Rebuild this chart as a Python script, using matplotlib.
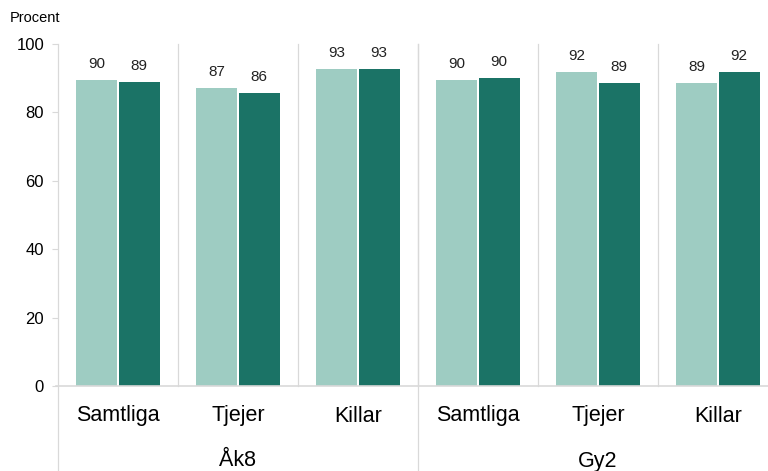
import numpy as np
import matplotlib
matplotlib.use("Agg")
import matplotlib.pyplot as plt
from matplotlib.transforms import blended_transform_factory

# ------------------------------- data -------------------------------
categories = ["Samtliga", "Tjejer", "Killar", "Samtliga", "Tjejer", "Killar"]
groups = ["Åk8", "Gy2"]
series_light = [89.6, 87.1, 92.6, 89.6, 91.8, 88.7]
series_dark = [88.9, 85.8, 92.8, 90.2, 88.7, 91.8]
yticks = [0, 20, 40, 60, 80, 100]

LIGHT = "#9ECCC2"
DARK = "#1B7366"
GRID = "#D9D9D9"

plt.rcParams["font.family"] = ["Liberation Sans", "DejaVu Sans"]

fig = plt.figure(figsize=(7.68, 4.71), dpi=100)
ax = fig.add_axes([58 / 768, 1 - 386 / 471, 710 / 768, (386 - 44) / 471])

x = np.arange(len(categories))
w = 0.34
off = 0.177
b1 = ax.bar(x - off, series_light, w, color=LIGHT, edgecolor="none")
b2 = ax.bar(x + off, series_dark, w, color=DARK, edgecolor="none")

for bars in (b1, b2):
    for r in bars:
        v = r.get_height()
        ax.text(r.get_x() + r.get_width() / 2, v + 2.6, f"{v:.0f}",
                ha="center", va="bottom", fontsize=11, color="#222222")

ax.set_xlim(-0.5, 5.417)
ax.set_ylim(0, 100)
ax.set_yticks(yticks)
ax.tick_params(axis="y", labelsize=12, length=4, color=GRID, pad=6)
ax.set_xticks([])
for s in ["top", "right", "bottom", "left"]:
    ax.spines[s].set_visible(False)

trans = blended_transform_factory(ax.transData, ax.transAxes)
# separators inside plot area
for i in range(6):
    xb = i - 0.5 + 1
    ax.plot([xb, xb], [0, 1], color=GRID, lw=0.9, transform=trans, clip_on=False, zorder=0)
# left edge and group separators extend below
for xb in (-0.5, 2.5, 5.5):
    ax.plot([xb, xb], [1, -85 / 342], color=GRID, lw=0.9, transform=trans, clip_on=False, zorder=0)
# x axis line
ax.plot([-0.52, 5.5], [0, 0], color=GRID, lw=1.2, transform=trans, clip_on=False)

for i, c in enumerate(categories):
    ax.text(i, -30 / 342, c, transform=trans, ha="center", va="center", fontsize=15.5)
for g, gname in enumerate(groups):
    ax.text(g * 3 + 1, -75 / 342, gname, transform=trans, ha="center", va="center", fontsize=15.5)

fig.text(10 / 768, 1 - 18 / 471, "Procent", ha="left", va="center", fontsize=10.5)

fig.savefig("out.png", dpi=100)
